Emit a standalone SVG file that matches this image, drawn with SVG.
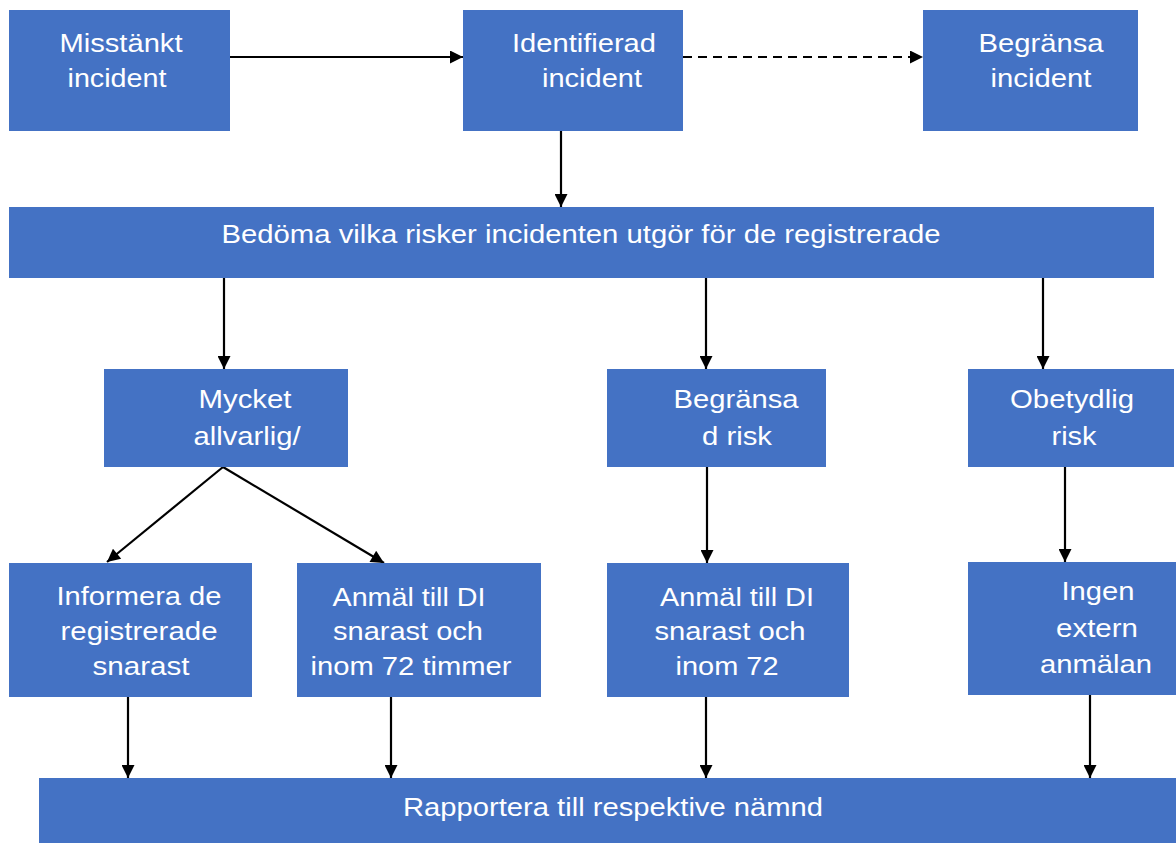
<svg xmlns="http://www.w3.org/2000/svg" width="1176" height="843" viewBox="0 0 1176 843">
<style>
.box{fill:#4472c4;}
.t{font-family:"Liberation Sans",Arial,sans-serif;font-size:25px;fill:#ffffff;text-anchor:middle;}
.c{stroke:#000;stroke-width:2.2;fill:none;marker-end:url(#ah);}
.d{stroke-dasharray:9,6;}
</style>
<defs>
<marker id="ah" viewBox="0 0 10 10" refX="10" refY="5" markerWidth="14" markerHeight="13" markerUnits="userSpaceOnUse" orient="auto">
<path d="M0,0 L10,5 L0,10 z" fill="#000"/>
</marker>
</defs>
<rect width="1176" height="843" fill="#fff"/>
<g id="connectors">
<path class="c" d="M230,57 L463,57"/>
<path class="c d" d="M683,57 L923,57"/>
<path class="c" d="M561,131 L561,207"/>
<path class="c" d="M224,278 L224,369"/>
<path class="c" d="M706,278 L706,369"/>
<path class="c" d="M1043,278 L1043,369"/>
<path class="c" d="M223,467 L107,562"/>
<path class="c" d="M223,467 L384,563"/>
<path class="c" d="M707,467 L707,563"/>
<path class="c" d="M1065,467 L1065,562"/>
<path class="c" d="M128,697 L128,778"/>
<path class="c" d="M391,697 L391,778"/>
<path class="c" d="M706,697 L706,778"/>
<path class="c" d="M1090,695 L1090,778"/>
</g>
<g id="misstankt">
<rect class="box" x="9" y="10" width="221" height="121"/>
<text class="t" x="121" y="52" textLength="123" lengthAdjust="spacingAndGlyphs">Misstänkt</text>
<text class="t" x="117" y="87" textLength="99" lengthAdjust="spacingAndGlyphs">incident</text>
</g>
<g id="identifierad">
<rect class="box" x="463" y="10" width="220" height="121"/>
<text class="t" x="584" y="52" textLength="144" lengthAdjust="spacingAndGlyphs">Identifierad</text>
<text class="t" x="592" y="87" textLength="100" lengthAdjust="spacingAndGlyphs">incident</text>
</g>
<g id="begransa-incident">
<rect class="box" x="923" y="10" width="215" height="121"/>
<text class="t" x="1041" y="52" textLength="125" lengthAdjust="spacingAndGlyphs">Begränsa</text>
<text class="t" x="1041" y="87" textLength="101" lengthAdjust="spacingAndGlyphs">incident</text>
</g>
<g id="bedoma">
<rect class="box" x="9" y="207" width="1145" height="71"/>
<text class="t" x="581" y="243" textLength="719" lengthAdjust="spacingAndGlyphs">Bedöma vilka risker incidenten utgör för de registrerade</text>
</g>
<g id="mycket">
<rect class="box" x="104" y="369" width="244" height="98"/>
<text class="t" x="245" y="408" textLength="93" lengthAdjust="spacingAndGlyphs">Mycket</text>
<text class="t" x="247" y="445" textLength="107" lengthAdjust="spacingAndGlyphs">allvarlig/</text>
</g>
<g id="begransad-risk">
<rect class="box" x="607" y="369" width="219" height="98"/>
<text class="t" x="736" y="408" textLength="125" lengthAdjust="spacingAndGlyphs">Begränsa</text>
<text class="t" x="737" y="445" textLength="70" lengthAdjust="spacingAndGlyphs">d risk</text>
</g>
<g id="obetydlig">
<rect class="box" x="968" y="369" width="206" height="98"/>
<text class="t" x="1072" y="408" textLength="124" lengthAdjust="spacingAndGlyphs">Obetydlig</text>
<text class="t" x="1074" y="445" textLength="45" lengthAdjust="spacingAndGlyphs">risk</text>
</g>
<g id="informera">
<rect class="box" x="9" y="563" width="243" height="134"/>
<text class="t" x="139" y="605" textLength="165" lengthAdjust="spacingAndGlyphs">Informera de</text>
<text class="t" x="139" y="640" textLength="157" lengthAdjust="spacingAndGlyphs">registrerade</text>
<text class="t" x="141" y="675" textLength="97" lengthAdjust="spacingAndGlyphs">snarast</text>
</g>
<g id="anmal-1">
<rect class="box" x="297" y="563" width="244" height="134"/>
<text class="t" x="409" y="606" textLength="153" lengthAdjust="spacingAndGlyphs">Anmäl till DI</text>
<text class="t" x="408" y="640" textLength="150" lengthAdjust="spacingAndGlyphs">snarast och</text>
<text class="t" x="411" y="675" textLength="201" lengthAdjust="spacingAndGlyphs">inom 72 timmer</text>
</g>
<g id="anmal-2">
<rect class="box" x="607" y="563" width="242" height="134"/>
<text class="t" x="737" y="606" textLength="154" lengthAdjust="spacingAndGlyphs">Anmäl till DI</text>
<text class="t" x="730" y="640" textLength="151" lengthAdjust="spacingAndGlyphs">snarast och</text>
<text class="t" x="727" y="675" textLength="103" lengthAdjust="spacingAndGlyphs">inom 72</text>
</g>
<g id="ingen">
<rect class="box" x="968" y="562" width="212" height="133"/>
<text class="t" x="1098" y="600" textLength="73" lengthAdjust="spacingAndGlyphs">Ingen</text>
<text class="t" x="1097" y="637" textLength="82" lengthAdjust="spacingAndGlyphs">extern</text>
<text class="t" x="1096" y="673" textLength="112" lengthAdjust="spacingAndGlyphs">anmälan</text>
</g>
<g id="rapportera">
<rect class="box" x="39" y="778" width="1141" height="70"/>
<text class="t" x="613" y="816" textLength="420" lengthAdjust="spacingAndGlyphs">Rapportera till respektive nämnd</text>
</g>
</svg>
